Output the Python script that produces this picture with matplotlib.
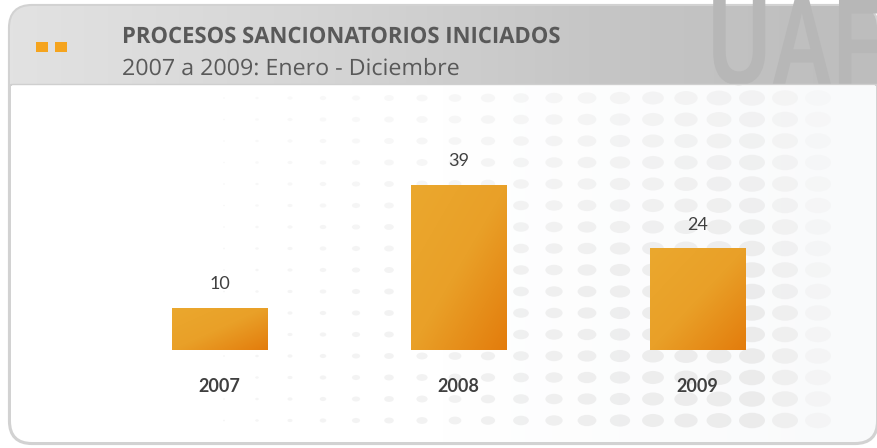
import numpy as np
import matplotlib
matplotlib.use("Agg")
import matplotlib.pyplot as plt
from matplotlib.patches import FancyBboxPatch, Rectangle, Ellipse
from matplotlib.colors import LinearSegmentedColormap
from matplotlib.patheffects import AbstractPathEffect
from matplotlib.transforms import Affine2D

# ---- data ----
years = ["2007", "2008", "2009"]
values = [10, 39, 24]
title = "PROCESOS SANCIONATORIOS INICIADOS"
subtitle = "2007 a 2009: Enero - Diciembre"

FONT = ["Lato", "DejaVu Sans"]
HFONT = ["Open Sans", "DejaVu Sans"]
W, H = 878, 448


class Stretch(AbstractPathEffect):
    """Scale glyph outlines about the text origin (condensed look)."""
    def __init__(self, sx=1.0, sy=1.0):
        super().__init__()
        self.sx, self.sy = sx, sy

    def draw_path(self, renderer, gc, tpath, affine, rgbFace=None):
        renderer.draw_path(gc, tpath, Affine2D().scale(self.sx, self.sy) + affine, rgbFace)


fig = plt.figure(figsize=(W / 100, H / 100), dpi=100)
fig.patch.set_facecolor("white")

bg = fig.add_axes([0, 0, 1, 1])
bg.set_xlim(0, W)
bg.set_ylim(H, 0)
bg.axis("off")

# panel with rounded border
panel = FancyBboxPatch((10, 6), 867, 437, boxstyle="round,pad=0,rounding_size=22",
                       fc="white", ec="#d2d2d2", lw=3, zorder=1)
bg.add_patch(panel)
bclip = FancyBboxPatch((11, 7), 865, 435, boxstyle="round,pad=0,rounding_size=21",
                       fc="none", ec="none", transform=bg.transData)
bg.add_patch(bclip)
bim = bg.imshow(np.linspace(0, 1, 64)[None, :], extent=(11, 876, 442, 86),
                cmap=LinearSegmentedColormap.from_list("b0", ["#ffffff", "#ffffff", "#f9fafb"]),
                aspect="auto", zorder=1.1)
bim.set_clip_path(bclip)

# header gradient
hcmap = LinearSegmentedColormap.from_list("h", ["#e2e2e2", "#d6d6d6", "#c6c6c6", "#bdbdbd"])
him = bg.imshow(np.linspace(0, 1, 256)[None, :], extent=(10, 877, 84, 6), cmap=hcmap,
                aspect="auto", zorder=2)
hclip = FancyBboxPatch((10, 6), 867, 200, boxstyle="round,pad=0,rounding_size=22",
                       fc="none", ec="none", transform=bg.transData)
bg.add_patch(hclip)
him.set_clip_path(hclip)
bg.plot([11, 876], [84.5, 84.5], color="#cfcfcf", lw=1, zorder=3)

# watermark logo (decorative)
wm = bg.text(708, 84, "UAF", fontsize=80, fontweight="bold", color="#b7b7b7",
             family=["Liberation Sans", "DejaVu Sans"], ha="left", va="baseline", zorder=2.5,
             path_effects=[Stretch(0.78, 1.1)])
wm.set_clip_path(hclip)

# dot pattern
cols = np.arange(224, 860, 33.0)
rows = np.arange(98, 440, 21.5)
for cx in cols:
    t = np.clip((cx - 224) / 520.0, 0, 1)
    w = 2 + 24 * t
    h = 1.5 + 14 * t
    fade = 1.0 if cx < 760 else max(0.0, 1 - (cx - 760) / 90.0)
    for cy in rows:
        v = 0.55 + 0.45 * np.clip((cy - 98) / 200.0, 0, 1)
        a = 0.85 * fade * (0.5 + 0.5 * t) * v
        if a <= 0.02:
            continue
        bg.add_patch(Ellipse((cx, cy), w, h, fc="#e9e9e9", ec="none", alpha=a, zorder=1.5))

# orange squares
for x0 in (36, 55):
    bg.add_patch(Rectangle((x0, 42), 12, 10, fc="#f5a41e", ec="none", zorder=3))

# titles: size by cap height, condensed to reference width
t1 = bg.text(122, 43, title, fontsize=16.2, fontweight="bold", color="#595959",
             family=HFONT, va="baseline", ha="left", zorder=4)
t2 = bg.text(122, 75, subtitle, fontsize=16.2, color="#595959",
             family=HFONT, va="baseline", ha="left", zorder=4)
fig.canvas.draw()
r = fig.canvas.get_renderer()
for t, target in ((t1, 438), (t2, 338)):
    wpx = t.get_window_extent(r).width
    t.set_path_effects([Stretch(target / wpx, 1.0)])

# ---- chart axes ----
ax = fig.add_axes([100 / W, (H - 350) / H, 717 / W, 211.5 / H])
ax.patch.set_alpha(0)

x = np.arange(len(years))
bars = ax.bar(x, values, width=0.40, color="none", edgecolor="none", zorder=3)
bcmap = LinearSegmentedColormap.from_list("b", ["#eba82e", "#e9a028", "#e37c0c"])
yy, xx = np.mgrid[0:1:100j, 0:1:100j]
gimg = (xx + yy) / 2.0
for b, v in zip(bars, values):
    x0, y0 = b.get_x(), b.get_y()
    bw, bh = b.get_width(), b.get_height()
    im = ax.imshow(gimg, extent=(x0, x0 + bw, y0, y0 + bh), cmap=bcmap,
                   aspect="auto", origin="upper", zorder=3, interpolation="bilinear")
    im.set_clip_path(b)
    ax.annotate(f"{v}", (x0 + bw / 2, bh), xytext=(0, 17), textcoords="offset points",
                ha="center", va="center", fontsize=13, color="#404040", family=FONT)
ax.set_xlim(-0.5, 2.5)
ax.set_ylim(0, 50)
ax.axis("off")

for xi, lab in zip(x, years):
    ax.annotate(lab, (xi, 0), xytext=(0, -26.3), textcoords="offset points",
                ha="center", va="center", fontsize=13, fontweight="bold",
                color="#404040", family=FONT, annotation_clip=False)

fig.savefig("out.png", dpi=100)
